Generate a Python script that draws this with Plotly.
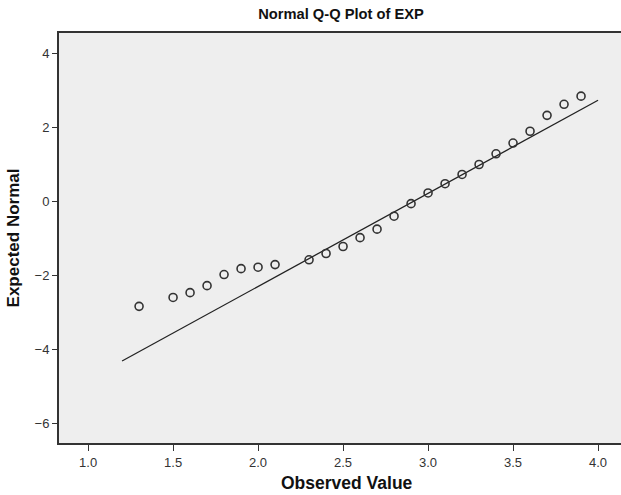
import plotly.graph_objects as go

observed = [1.3, 1.5, 1.6, 1.7, 1.8, 1.9, 2.0, 2.1, 2.3, 2.4, 2.5, 2.6, 2.7,
            2.8, 2.9, 3.0, 3.1, 3.2, 3.3, 3.4, 3.5, 3.6, 3.7, 3.8, 3.9]
expected = [-2.84, -2.60, -2.47, -2.28, -1.98, -1.82, -1.78, -1.71, -1.58,
            -1.41, -1.22, -0.98, -0.75, -0.40, -0.06, 0.23, 0.48, 0.73,
            1.00, 1.29, 1.58, 1.90, 2.33, 2.63, 2.85]
line_x = [1.2, 4.0]
line_y = [-4.32, 2.74]

x_ticks = [1.0, 1.5, 2.0, 2.5, 3.0, 3.5, 4.0]
x_tick_labels = ["1.0", "1.5", "2.0", "2.5", "3.0", "3.5", "4.0"]
y_ticks = [4, 2, 0, -2, -4, -6]
y_tick_labels = ["4", "2", "0", "\u22122", "\u22124", "\u22126"]

fig = go.Figure()
fig.add_trace(go.Scatter(x=line_x, y=line_y, mode="lines",
                         line=dict(color="#222222", width=1.3),
                         showlegend=False, hoverinfo="skip"))
fig.add_trace(go.Scatter(x=observed, y=expected, mode="markers",
                         marker=dict(symbol="circle-open", size=8,
                                     color="#333333",
                                     line=dict(width=1.6, color="#333333")),
                         showlegend=False))

font = "Liberation Sans, Arial, sans-serif"
fig.update_layout(
    width=621, height=495,
    margin=dict(l=59, r=0, t=33, b=52),
    paper_bgcolor="white",
    plot_bgcolor="#EEEEEE",
    font=dict(family=font, color="#333333", size=13),
    title=dict(text="<b>Normal Q-Q Plot of EXP</b>", x=341/621, xanchor="center",
               y=1 - 14/495, yanchor="middle",
               font=dict(family=font, size=14.7, color="#111111")),
    xaxis=dict(range=[0.829, 4.135], tickvals=x_ticks, ticktext=x_tick_labels,
               showgrid=False, zeroline=False, showline=True, linecolor="#333333",
               linewidth=2, mirror=True, ticks="outside", ticklen=6,
               tickcolor="#333333", tickwidth=1.2, automargin=False,
               tickfont=dict(size=13, color="#333333")),
    yaxis=dict(range=[-6.54, 4.56], tickvals=y_ticks, ticktext=y_tick_labels,
               showgrid=False, zeroline=False, showline=True, linecolor="#333333",
               linewidth=2, ticks="outside", ticklen=5, automargin=False,
               tickcolor="#333333", tickwidth=1.2,
               tickfont=dict(size=13, color="#333333"),
               title=dict(text="<b>Expected Normal</b>", standoff=11,
                          font=dict(size=17, color="#111111"))),
    annotations=[dict(text="<b>Observed Value</b>", xref="paper", yref="paper",
                      x=(347 - 59) / 562, y=-(483 - 442.7) / 410,
                      xanchor="center", yanchor="middle", showarrow=False,
                      font=dict(family=font, size=17.5, color="#111111"))],
)

fig.write_html("out.html", config={"displayModeBar": False},
               post_script="document.body.style.margin='0';document.body.style.overflow='hidden';")
